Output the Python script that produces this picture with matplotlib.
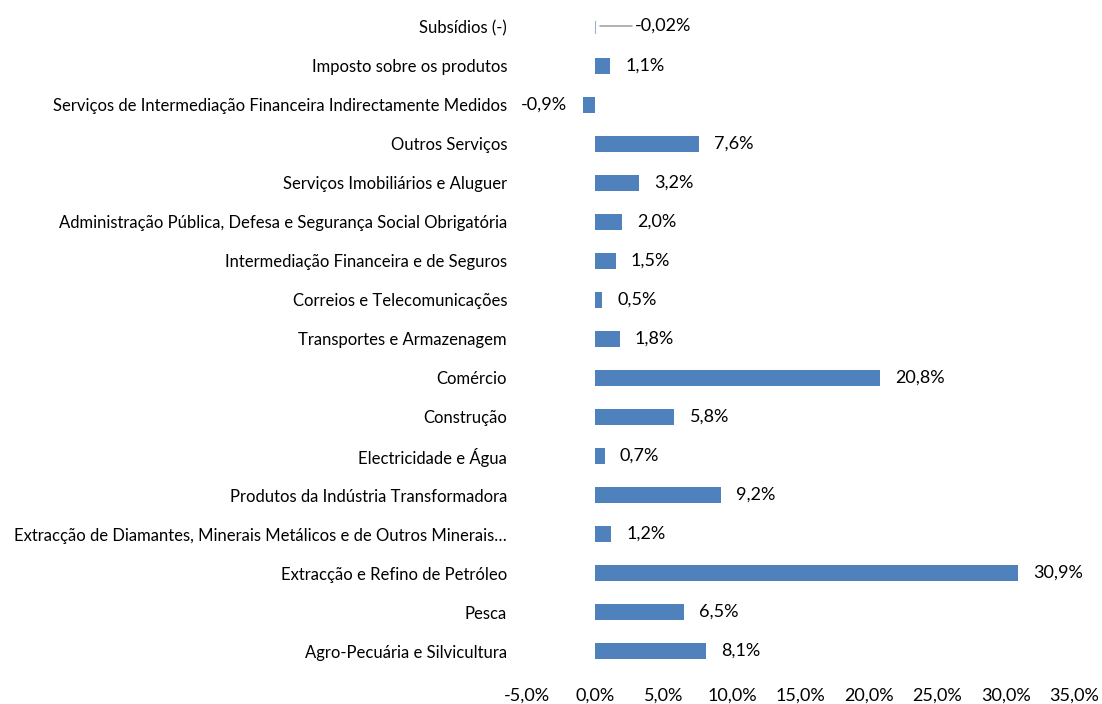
import numpy as np
import matplotlib
matplotlib.use("Agg")
import matplotlib.pyplot as plt

# Dados (de baixo para cima)
categorias = [
    "Agro-Pecuária e Silvicultura",
    "Pesca",
    "Extracção e Refino de Petróleo",
    "Extracção de Diamantes, Minerais Metálicos e de Outros Minerais…",
    "Produtos da Indústria Transformadora",
    "Electricidade e Água",
    "Construção",
    "Comércio",
    "Transportes e Armazenagem",
    "Correios e Telecomunicações",
    "Intermediação Financeira e de Seguros",
    "Administração Pública, Defesa e Segurança Social Obrigatória",
    "Serviços Imobiliários e Aluguer",
    "Outros Serviços",
    "Serviços de Intermediação Financeira Indirectamente Medidos",
    "Imposto sobre os produtos",
    "Subsídios (-)",
]
valores = [8.1, 6.5, 30.9, 1.2, 9.2, 0.7, 5.8, 20.8, 1.8, 0.5, 1.5, 2.0, 3.2, 7.6, -0.9, 1.1, -0.02]
rotulos = ["8,1%", "6,5%", "30,9%", "1,2%", "9,2%", "0,7%", "5,8%", "20,8%", "1,8%", "0,5%",
           "1,5%", "2,0%", "3,2%", "7,6%", "-0,9%", "1,1%", "-0,02%"]
ticks_x = [-5, 0, 5, 10, 15, 20, 25, 30, 35]

plt.rcParams['font.family'] = ['Lato', 'DejaVu Sans']
cor = "#4F81BD"

fig = plt.figure(figsize=(11.02, 7.04), dpi=100)
ax = fig.add_axes([0.4778, 0.0475, 0.4968, 0.942])

y = np.arange(len(categorias))
ax.barh(y, valores, height=0.42, color=cor)

# Rótulos de dados
for i, (v, r) in enumerate(zip(valores, rotulos)):
    if i == len(valores) - 1:
        # Subsídios: rótulo deslocado com linha de chamada
        ax.annotate(r, xy=(0, i), xytext=(29, 1), textcoords='offset points',
                    ha='left', va='center', fontsize=13,
                    arrowprops=dict(arrowstyle='-', color='#A6A6A6', lw=1.2,
                                    shrinkA=0, shrinkB=4,
                                    connectionstyle='angle,angleA=0,angleB=15,rad=0'))
        ax.plot([0, 0], [i - 0.15, i + 0.15], color=cor, lw=0.8, alpha=0.6)
    elif v >= 0:
        ax.annotate(r, xy=(v, i), xytext=(11, 0), textcoords='offset points',
                    ha='left', va='center', fontsize=13)
    else:
        ax.annotate(r, xy=(v, i), xytext=(-11, 0), textcoords='offset points',
                    ha='right', va='center', fontsize=13)

ax.set_xlim(-5, 35)
ax.set_ylim(-0.5, len(categorias) - 0.5)
ax.set_xticks(ticks_x)
ax.set_xticklabels([f"{t:.1f}%".replace(".", ",") for t in ticks_x], fontsize=13)
ax.set_yticks(y)
ax.set_yticklabels(categorias, fontsize=12)
ax.tick_params(axis='both', length=0)
ax.tick_params(axis='x', pad=12)
ax.tick_params(axis='y', pad=14)
for s in ax.spines.values():
    s.set_visible(False)

fig.savefig("out.png", dpi=100)
